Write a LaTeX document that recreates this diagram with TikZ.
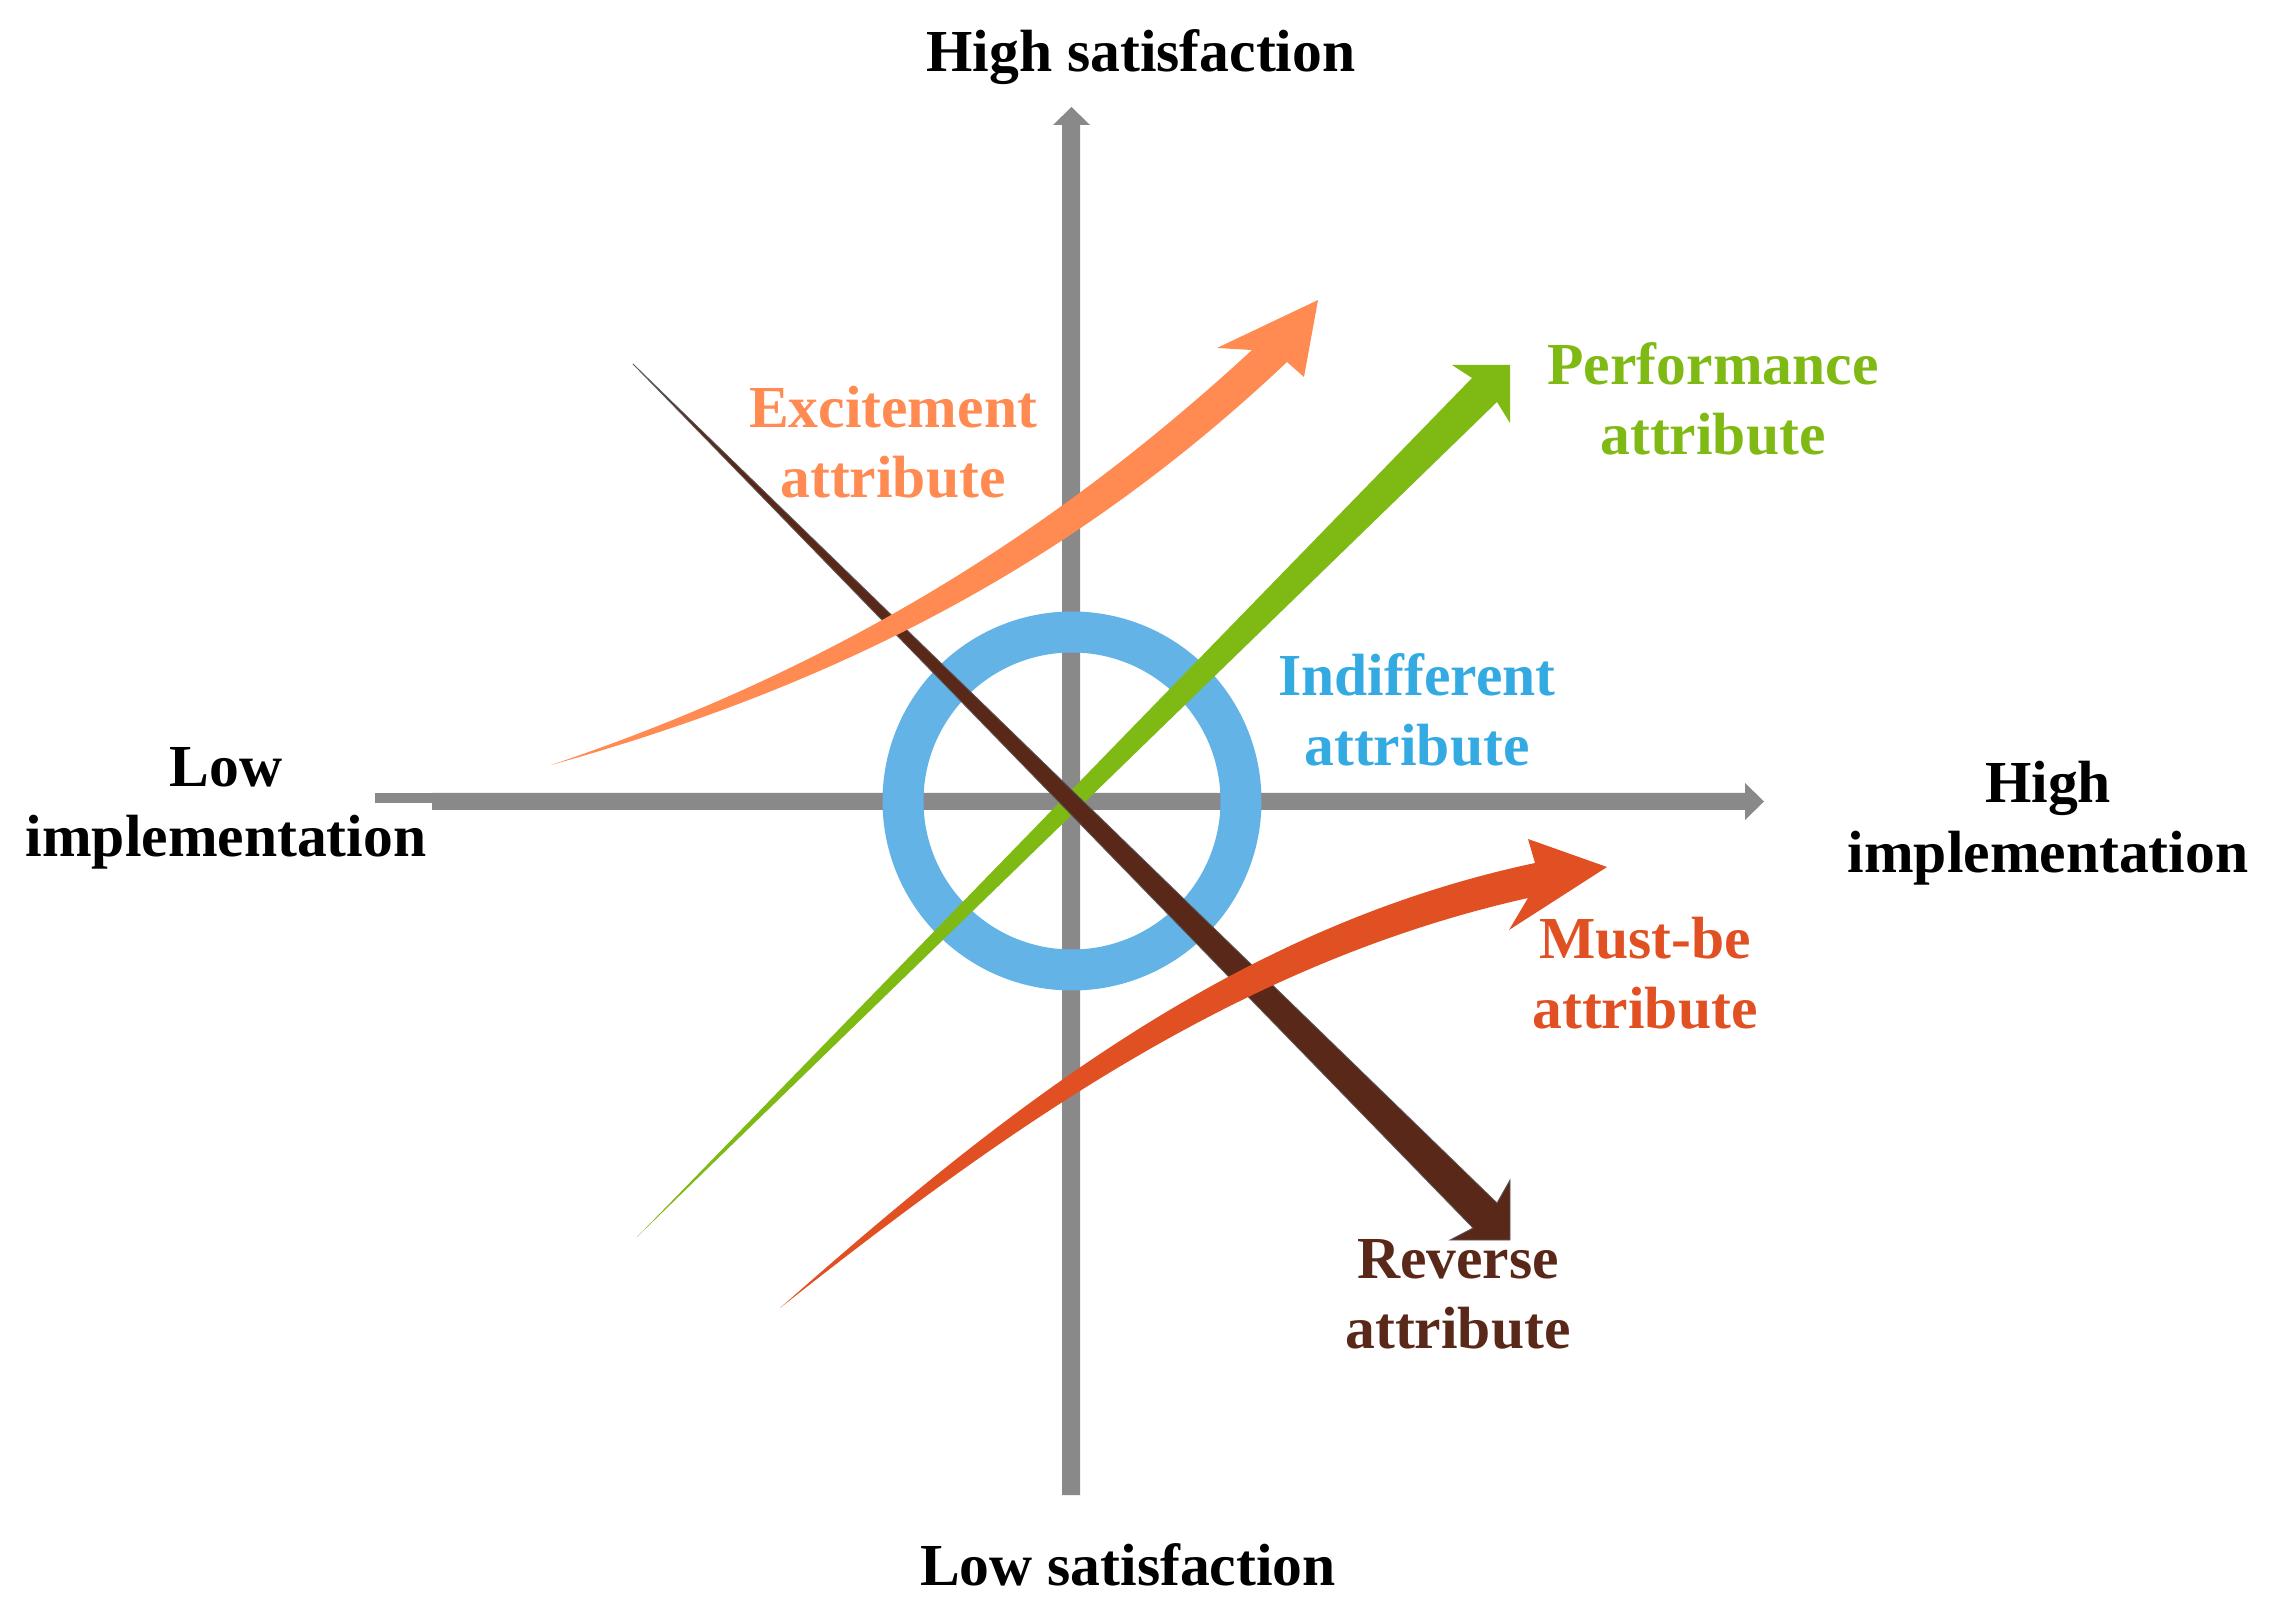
\documentclass[tikz,border=0pt]{standalone}
\usepackage{fontspec}
\setmainfont{Liberation Serif}
\definecolor{axisgray}{HTML}{898989}
\definecolor{ringblue}{HTML}{63B3E7}
\definecolor{indblue}{HTML}{33AAE2}
\definecolor{perfgreen}{HTML}{7FBA14}
\definecolor{revbrown}{HTML}{5A2819}
\definecolor{excorange}{HTML}{FF8A52}
\definecolor{mustred}{HTML}{E15022}
\newcommand\twolines[2]{\begin{tabular}[t]{@{}c@{}}#1\\#2\end{tabular}}
\begin{document}
\begin{tikzpicture}[x=0.5pt,y=-0.5pt]
\useasboundingbox (0,0) rectangle (2272,1609);
\tikzset{lbl/.style={font=\bfseries\fontsize{29.8}{35}\selectfont, inner sep=0pt, anchor=base}}
% axes
\fill[axisgray] (1062,1495) -- (1062,125) -- (1053,125) -- (1071.5,107) -- (1090,125) -- (1080,125) -- (1080,1495) -- cycle;
\fill[axisgray] (432,793) -- (1745,793) -- (1745,783) -- (1764,801.5) -- (1745,820) -- (1745,810) -- (432,810) -- cycle;
\fill[axisgray] (375,793) rectangle (432,803);
% indifferent ring
\coordinate (O) at (1072,801);
\draw[ringblue, line width=20.5pt] (O) circle (169);
% performance
\fill[perfgreen] (637,1237) -- (1472,378) -- (1452,365) -- (1510,365) -- (1510,423) -- (1497,402) -- cycle;
% reverse
\fill[revbrown, draw=black!65, line width=0.4pt] (633,364) -- (1497,1203) -- (1510,1180) -- (1510,1240) -- (1450,1240) -- (1473,1228) -- cycle;
% excitement
\fill[excorange] (551,765) .. controls (835,669.5) and (1054,532.6) .. (1252,350) -- (1217,348) -- (1318,300) -- (1304,377) -- (1287,362) .. controls (1076,561.4) and (841,684.5) .. (551,765) -- cycle;
% must-be
\fill[mustred] (780,1308) .. controls (1000.6,1113.4) and (1231.5,927.5) .. (1535,863) -- (1528,839) -- (1607,867) -- (1509,930) -- (1528,898) .. controls (1240.5,962.5) and (1009.4,1126.6) .. (780,1308) -- cycle;
% labels
\node[lbl] (hs) at (1141,72) {High satisfaction};
\node[lbl] (ls) at (1128,1585) {Low satisfaction};
\node[lbl] (li) at (226,787) {\twolines{Low}{implementation}};
\node[lbl] (hi) at (2048,803) {\twolines{High}{implementation}};
\node[lbl, text=excorange] (ex) at (893,428) {\twolines{Excitement}{attribute}};
\node[lbl, text=perfgreen] (pf) at (1713,385) {\twolines{Performance}{attribute}};
\node[lbl, text=indblue] (id) at (1417,696) {\twolines{Indifferent}{attribute}};
\node[lbl, text=mustred] (mb) at (1645,958) {\twolines{Must-be}{attribute}};
\node[lbl, text=revbrown] (rv) at (1458,1278) {\twolines{Reverse}{attribute}};
\end{tikzpicture}
\end{document}
